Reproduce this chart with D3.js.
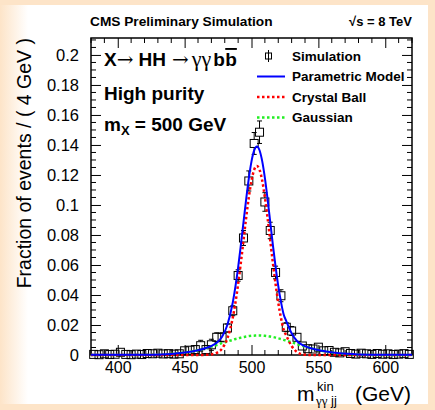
<!DOCTYPE html>
<html>
<head>
<meta charset="utf-8">
<script src="https://cdn.jsdelivr.net/npm/d3@7"></script>
<style>
  body { margin: 0; background: #fde6cc; }
  svg { display: block; font-family: "Liberation Sans", Arial, Helvetica, sans-serif; }
</style>
</head>
<body>
<svg id="chart" width="435" height="410"></svg>
<script>
// binned simulation (4 GeV bins)
const binCenters = [382, 386, 390, 394, 398, 402, 406, 410, 414, 418, 422, 426, 430, 434, 438,
  442, 446, 450, 454, 458, 462, 466, 470, 474, 478, 482, 486, 490, 494, 498,
  502, 506, 510, 514, 518, 522, 526, 530, 534, 538, 542, 546, 550, 554, 558,
  562, 566, 570, 574, 578, 582, 586, 590, 594, 598, 602, 606, 610, 614, 618];
const simValues = [0.0004, 0.0002, 0.0008, 0.0003, 0.0005, 0.0018, 0.0004, 0.0002, 0.0006, 0.0003,
  0.0010, 0.0008, 0.0012, 0.0007, 0.0009, 0.0006, 0.0008, 0.0028, 0.0032, 0.0036,
  0.0062, 0.0036, 0.0068, 0.0118, 0.0118, 0.0180, 0.0295, 0.0530, 0.0780, 0.1160,
  0.1410, 0.1485, 0.1020, 0.0830, 0.0550, 0.0395, 0.0185, 0.0160, 0.0118, 0.0060,
  0.0042, 0.0040, 0.0052, 0.0028, 0.0030, 0.0018, 0.0014, 0.0022, 0.0010, 0.0006,
  0.0012, 0.0008, 0.0004, 0.0010, 0.0005, 0.0008, 0.0003, 0.0006, 0.0009, 0.0004];
const simErrors = [0.0012, 0.0010, 0.0014, 0.0010, 0.0012, 0.0020, 0.0011, 0.0009, 0.0012, 0.0010,
  0.0015, 0.0013, 0.0016, 0.0012, 0.0014, 0.0012, 0.0013, 0.0024, 0.0026, 0.0027,
  0.0036, 0.0027, 0.0037, 0.0030, 0.0030, 0.0027, 0.0033, 0.0038, 0.0050, 0.0067,
  0.0073, 0.0075, 0.0062, 0.0055, 0.0042, 0.0040, 0.0030, 0.0030, 0.0026, 0.0018,
  0.0016, 0.0017, 0.0018, 0.0013, 0.0013, 0.0011, 0.0010, 0.0013, 0.0009, 0.0008,
  0.0010, 0.0009, 0.0008, 0.0009, 0.0008, 0.0009, 0.0008, 0.0008, 0.0009, 0.0008];

// fitted curves
const curveMass = [380, 400, 420, 440, 450, 460, 466, 470, 474, 478, 482, 486, 488, 490, 492,
  494, 496, 498, 500, 502, 504, 506, 508, 510, 512, 514, 516, 518, 520, 522,
  524, 526, 530, 534, 538, 542, 548, 556, 566, 580, 600, 620];
const modelValues = [0.0001, 0.0001, 0.0002, 0.0007, 0.0016, 0.0032, 0.0047, 0.0060, 0.0081, 0.0122,
  0.0202, 0.0350, 0.0457, 0.0584, 0.0730, 0.0884, 0.1038, 0.1178, 0.1291, 0.1364,
  0.1390, 0.1365, 0.1292, 0.1180, 0.1041, 0.0887, 0.0733, 0.0589, 0.0461, 0.0356,
  0.0272, 0.0226, 0.0145, 0.0093, 0.0067, 0.0052, 0.0037, 0.0023, 0.0011, 0.0004,
  0.0001, 0.0001];
const cbValues = [0, 0, 0, 0, 0, 0, 0.0001, 0.0004, 0.0014, 0.0043,
  0.0112, 0.0249, 0.0350, 0.0473, 0.0613, 0.0764, 0.0915, 0.1052, 0.1163, 0.1235,
  0.1260, 0.1235, 0.1163, 0.1052, 0.0915, 0.0764, 0.0613, 0.0473, 0.0350, 0.0249,
  0.0171, 0.0130, 0.0060, 0.0020, 0.0005, 0.0001, 0, 0, 0, 0,
  0, 0];
const gaussValues = [0, 0, 0.0001, 0.0007, 0.0016, 0.0032, 0.0046, 0.0056, 0.0067, 0.0079,
  0.0090, 0.0101, 0.0107, 0.0111, 0.0116, 0.0120, 0.0123, 0.0126, 0.0128, 0.0129,
  0.0130, 0.0130, 0.0129, 0.0128, 0.0126, 0.0123, 0.0120, 0.0116, 0.0111, 0.0107,
  0.0101, 0.0096, 0.0085, 0.0073, 0.0062, 0.0051, 0.0037, 0.0022, 0.0010, 0.0003,
  0, 0];

const xDomain = [380, 620];
const yDomain = [0, 0.2113];
const xTicks = [400, 450, 500, 550, 600];
const yTicks = [0, 0.02, 0.04, 0.06, 0.08, 0.1, 0.12, 0.14, 0.16, 0.18, 0.2];

const legendLabels = ["Simulation", "Parametric Model", "Crystal Ball", "Gaussian"];

const svg = d3.select("#chart");
const W = 435, H = 410;
const area = { left: 91, right: 412, top: 38, bottom: 355 };
const peach = "#fde4c8";

// page background with soft peach border
const defs = svg.append("defs");
const gl = defs.append("linearGradient").attr("id", "leftFade").attr("x1", 0).attr("x2", 1);
gl.append("stop").attr("offset", 0).attr("stop-color", peach);
gl.append("stop").attr("offset", 1).attr("stop-color", "#ffffff");
svg.append("rect").attr("width", W).attr("height", H).attr("fill", peach);
svg.append("rect").attr("x", 5).attr("y", 5).attr("width", 423).attr("height", 399).attr("fill", "#fff");
svg.append("rect").attr("x", 0).attr("y", 5).attr("width", 28).attr("height", 399).attr("fill", "url(#leftFade)");

const x = d3.scaleLinear().domain(xDomain).range([area.left, area.right]);
const y = d3.scaleLinear().domain(yDomain).range([area.bottom, area.top]);

const majorLen = 10, minorLen = 5;
const fmt = d => String(+d.toFixed(2));

// left axis
svg.append("g")
  .attr("transform", `translate(${area.left},0)`)
  .call(d3.axisLeft(y).tickValues(yTicks).tickSize(-majorLen).tickPadding(12).tickFormat(fmt))
  .call(g => g.select(".domain").remove())
  .call(g => g.selectAll("text").attr("font-size", 16.5).attr("fill", "#000").attr("font-family", "Liberation Sans, Arial"));
// bottom axis
svg.append("g")
  .attr("transform", `translate(0,${area.bottom})`)
  .call(d3.axisBottom(x).tickValues(xTicks).tickSize(-majorLen).tickPadding(7).tickFormat(d3.format("d")))
  .call(g => g.select(".domain").remove())
  .call(g => g.selectAll("text").attr("font-size", 16).attr("fill", "#000").attr("font-family", "Liberation Sans, Arial"));
// top and right mirrored ticks
svg.append("g")
  .attr("transform", `translate(0,${area.top})`)
  .call(d3.axisTop(x).tickValues(xTicks).tickSize(-majorLen).tickFormat(""))
  .call(g => g.select(".domain").remove());
svg.append("g")
  .attr("transform", `translate(${area.right},0)`)
  .call(d3.axisRight(y).tickValues(yTicks).tickSize(-majorLen).tickFormat(""))
  .call(g => g.select(".domain").remove());

// minor ticks
const xMinor = d3.range(xDomain[0], xDomain[1] + 0.1, 10).filter(v => v % 50 !== 0);
const yMinor = d3.range(0, yDomain[1], 0.005).filter(v => Math.abs(v / 0.02 - Math.round(v / 0.02)) > 1e-6);
const minor = svg.append("g").attr("stroke", "#000").attr("stroke-width", 1);
xMinor.forEach(v => {
  minor.append("line").attr("x1", x(v)).attr("x2", x(v)).attr("y1", area.bottom).attr("y2", area.bottom - minorLen);
  minor.append("line").attr("x1", x(v)).attr("x2", x(v)).attr("y1", area.top).attr("y2", area.top + minorLen);
});
yMinor.forEach(v => {
  minor.append("line").attr("x1", area.left).attr("x2", area.left + minorLen).attr("y1", y(v)).attr("y2", y(v));
  minor.append("line").attr("x1", area.right).attr("x2", area.right - minorLen).attr("y1", y(v)).attr("y2", y(v));
});
svg.selectAll(".tick line").attr("stroke", "#000").attr("stroke-width", 1);

// frame
svg.append("rect")
  .attr("x", area.left).attr("y", area.top)
  .attr("width", area.right - area.left).attr("height", area.bottom - area.top)
  .attr("fill", "none").attr("stroke", "#000").attr("stroke-width", 1.5);

// data points
const sim = binCenters.map((m, i) => ({ m, v: simValues[i], e: simErrors[i] }));
const half = 4, cap = 2.5;
const pts = svg.append("g").attr("stroke", "#000").attr("stroke-width", 1).attr("fill", "none");
sim.forEach(d => {
  const cx = x(d.m), cy = y(d.v);
  const yt = y(d.v + d.e), yb = y(Math.max(0, d.v - d.e));
  if (cy - yt > half) {
    pts.append("line").attr("x1", cx).attr("x2", cx).attr("y1", cy - half).attr("y2", yt);
    pts.append("line").attr("x1", cx - cap).attr("x2", cx + cap).attr("y1", yt).attr("y2", yt);
  }
  if (yb - cy > half) {
    pts.append("line").attr("x1", cx).attr("x2", cx).attr("y1", cy + half).attr("y2", yb);
    pts.append("line").attr("x1", cx - cap).attr("x2", cx + cap).attr("y1", yb).attr("y2", yb);
  }
  pts.append("rect").attr("x", cx - half).attr("y", cy - half).attr("width", 2 * half).attr("height", 2 * half);
});

// curves
const line = d3.line().x(d => x(d[0])).y(d => y(d[1])).curve(d3.curveMonotoneX);
const mk = vals => curveMass.map((m, i) => [m, vals[i]]);
svg.append("path").datum(mk(gaussValues)).attr("d", line)
  .attr("fill", "none").attr("stroke", "#22ee22").attr("stroke-width", 2.5).attr("stroke-dasharray", "2.5,2.5");
svg.append("path").datum(mk(cbValues)).attr("d", line)
  .attr("fill", "none").attr("stroke", "#ff0000").attr("stroke-width", 2.5).attr("stroke-dasharray", "2.5,2.5");
svg.append("path").datum(mk(modelValues)).attr("d", line)
  .attr("fill", "none").attr("stroke", "#0000ff").attr("stroke-width", 2);

// header texts
svg.append("text").attr("x", 90).attr("y", 26).attr("font-size", 13.7).attr("font-weight", "bold")
  .text("CMS Preliminary Simulation");
svg.append("text").attr("x", 412).attr("y", 26).attr("font-size", 13).attr("font-weight", "bold")
  .attr("text-anchor", "end").text("\u221As = 8 TeV");

// process labels
const t1 = svg.append("text").attr("x", 104).attr("y", 66).attr("font-size", 19).attr("font-weight", "bold");
t1.append("tspan").text("X");
t1.append("tspan").attr("font-weight", "normal").attr("font-family", "DejaVu Serif").attr("font-size", 20).text("\u2192");
t1.append("tspan").attr("dx", 5).text("HH");
t1.append("tspan").attr("dx", 6).attr("font-weight", "normal").attr("font-family", "DejaVu Serif").attr("font-size", 20).text("\u2192");
t1.append("tspan").attr("dx", 3).attr("font-weight", "normal").attr("font-family", "Liberation Serif").attr("font-size", 22).text("\u03B3\u03B3");
t1.append("tspan").attr("dx", 2).text("b");
t1.append("tspan").attr("dx", 0.5).attr("text-decoration", "overline").text("b");
svg.append("text").attr("x", 104).attr("y", 100).attr("font-size", 19).attr("font-weight", "bold").text("High purity");
const t3 = svg.append("text").attr("x", 104).attr("y", 131).attr("font-size", 19).attr("font-weight", "bold");
t3.append("tspan").text("m");
t3.append("tspan").attr("font-size", 13).attr("dy", 4).text("X");
t3.append("tspan").attr("dy", -4).text(" = 500 GeV");

// legend
const legY = [56, 76.5, 97, 117.5];
const leg = svg.append("g");
legendLabels.forEach((lab, i) => {
  leg.append("text").attr("x", 292).attr("y", legY[i] + 4.5).attr("font-size", 13.5).attr("font-weight", "bold").text(lab);
});
leg.append("rect").attr("x", 265.5).attr("y", legY[0] - 3).attr("width", 6).attr("height", 6)
  .attr("fill", "none").attr("stroke", "#000").attr("stroke-width", 1);
leg.append("line").attr("x1", 268.5).attr("x2", 268.5).attr("y1", legY[0] - 6).attr("y2", legY[0] + 6)
  .attr("stroke", "#000").attr("stroke-width", 1);
const legStyle = [null, ["#0000ff", null, 2], ["#ff0000", "2.5,2.5", 2.5], ["#22ee22", "2.5,2.5", 2.5]];
legStyle.forEach((s, i) => {
  if (!s) return;
  leg.append("line").attr("x1", 257).attr("x2", 285).attr("y1", legY[i]).attr("y2", legY[i])
    .attr("stroke", s[0]).attr("stroke-width", s[2]).attr("stroke-dasharray", s[1]);
});

// axis titles
svg.append("text")
  .attr("transform", `translate(31,${area.top}) rotate(-90)`)
  .attr("text-anchor", "end").attr("font-size", 19.5)
  .text("Fraction of events / ( 4 GeV )");
svg.append("text").attr("x", 297).attr("y", 401).attr("font-size", 21).text("m");
svg.append("text").attr("x", 317).attr("y", 391).attr("font-size", 13).text("kin");
const sub = svg.append("text").attr("x", 316).attr("y", 405).attr("font-size", 13);
sub.append("tspan").attr("font-family", "Liberation Serif").text("\u03B3\u03B3");
sub.append("tspan").text(" jj");
svg.append("text").attr("x", 411).attr("y", 401).attr("text-anchor", "end").attr("font-size", 21).text("(GeV)");
</script>
</body>
</html>
